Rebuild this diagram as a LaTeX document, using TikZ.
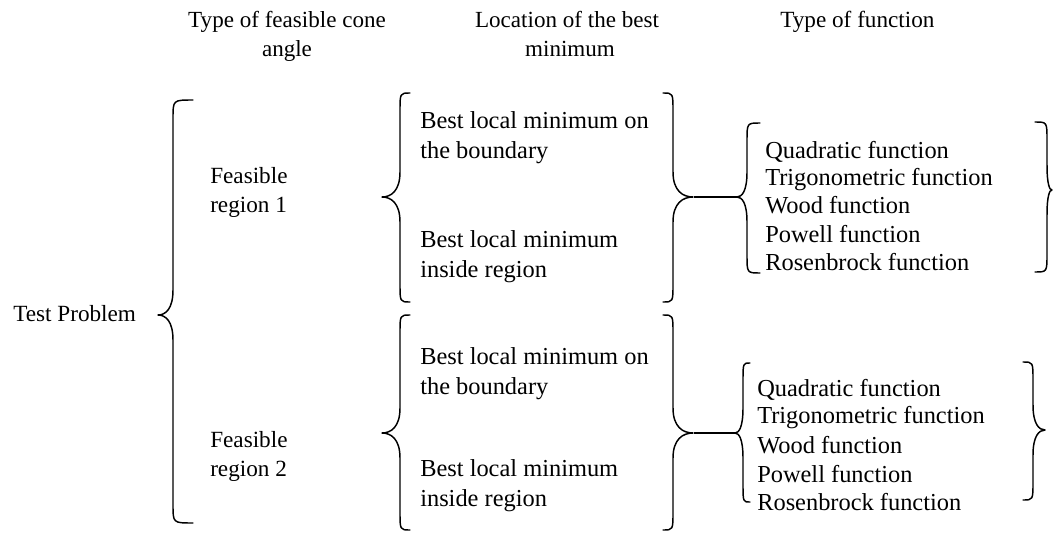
\documentclass[tikz,border=0pt]{standalone}
\usepackage{fontspec}
\setmainfont{Liberation Serif}
\newcommand{\BrP}[6]{%
 \draw[brace] (#1,#4) .. controls (#2,#4) .. (#2,#4+18) -- (#2,#5-25)
   .. controls (#2,#5-6) and ({(#2+#3)/2},#5) .. (#3,#5)
   .. controls ({(#2+#3)/2},#5) and (#2,#5+6) .. (#2,#5+25)
   -- (#2,#6-18) .. controls (#2,#6) .. (#1,#6);}
\begin{document}
\begin{tikzpicture}[x=0.75pt,y=-0.75pt,
  txt/.style={anchor=base west,inner sep=0pt,font=\fontsize{17.4}{21}\selectfont},
  btxt/.style={anchor=base west,inner sep=0pt,font=\fontsize{18.3}{22}\selectfont},
  ctxt/.style={anchor=base,inner sep=0pt,font=\fontsize{17.3}{21}\selectfont},
  brace/.style={line width=1.1pt,line cap=round,line join=round},
  conn/.style={line width=1.1pt}]
\useasboundingbox (0,0) rectangle (1053,535);
% headers
\node[ctxt] (h1a) at (287,28) {Type of feasible cone};
\node[ctxt] (h1b) at (287,57) {angle};
\node[ctxt] (h2a) at (567,28) {Location of the best};
\node[ctxt] (h2b) at (570,57) {minimum};
\node[txt] (h3a) at (780,28) {Type of function};
% root
\node[txt] (root) at (13,321) {Test Problem};
\BrP{193}{173}{158}{100}{315}{523}
% feasible regions
\node[txt] (fr1a) at (210,183) {Feasible};
\node[txt] (fr1b) at (210,212) {region 1};
\node[txt] (fr2a) at (210,447) {Feasible};
\node[txt] (fr2b) at (210,476) {region 2};
% middle group 1
\BrP{410}{400}{382}{93}{197}{302}
\BrP{663}{673}{693}{93}{197}{302}
\node[btxt] (m1a) at (420,128) {Best local minimum on};
\node[btxt] (m1b) at (420,158) {the boundary};
\node[btxt] (m1c) at (420,247) {Best local minimum};
\node[btxt] (m1d) at (420,277) {inside region};
% middle group 2
\BrP{410}{400}{382}{315}{433}{530}
\BrP{663}{673}{693}{315}{433}{530}
\node[btxt] (m2a) at (420,364) {Best local minimum on};
\node[btxt] (m2b) at (420,394) {the boundary};
\node[btxt] (m2c) at (420,476) {Best local minimum};
\node[btxt] (m2d) at (420,506) {inside region};
% function group 1
\BrP{760}{747}{737}{123}{197}{273}
\BrP{1035}{1047}{1052}{122}{190}{272}
\node[btxt] (f1a) at (765,158) {Quadratic function};
\node[btxt] (f1b) at (765,185) {Trigonometric function};
\node[btxt] (f1c) at (765,213) {Wood function};
\node[btxt] (f1d) at (765,242) {Powell function};
\node[btxt] (f1e) at (765,270) {Rosenbrock function};
% function group 2
\BrP{750}{743}{735}{363}{433}{502}
\BrP{1023}{1033}{1045}{362}{430}{500}
\node[btxt] (f2a) at (757,396) {Quadratic function};
\node[btxt] (f2b) at (757,423) {Trigonometric function};
\node[btxt] (f2c) at (757,453) {Wood function};
\node[btxt] (f2d) at (757,482) {Powell function};
\node[btxt] (f2e) at (757,510) {Rosenbrock function};
% connectors
\coordinate (c1a) at (694,197);
\coordinate (c1b) at (737,197);
\coordinate (c2a) at (694,433);
\coordinate (c2b) at (735,433);
\draw[conn] (c1a) -- (c1b);
\draw[conn] (c2a) -- (c2b);
\end{tikzpicture}
\end{document}
